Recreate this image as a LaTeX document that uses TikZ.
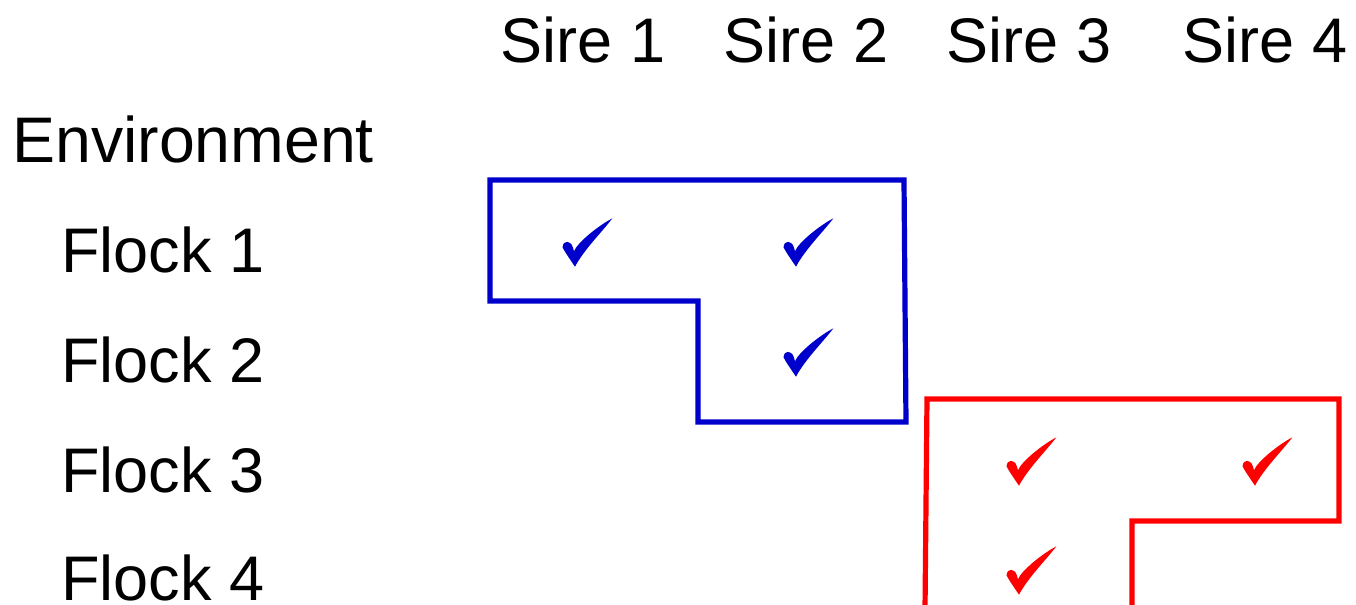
\documentclass[tikz,border=0pt]{standalone}
\usepackage{fontspec}
\setmainfont{Liberation Sans}
\begin{document}
\begin{tikzpicture}[x=0.5pt,y=-0.5pt,
  lbl/.style={inner sep=0pt,font=\fontsize{31.5}{38}\selectfont},
  bluegroup/.style={draw=groupblue,line width=2.6pt,line join=miter},
  redgroup/.style={draw=red,line width=2.6pt,line join=miter},
  checkmark/.pic={
    \fill (-22.5,4.7) .. controls (-21.5,0.2) .. (-17.7,-0.8)
      .. controls (-13.3,0.8) .. (-11,8.5)
      .. controls (-7.3,-0.5) and (14,-17.5) .. (27.3,-24.3)
      .. controls (18.5,-12.5) and (-1.5,7.5) .. (-10,24)
      .. controls (-18,12.3) .. cycle;
  }]
\definecolor{groupblue}{RGB}{0,0,204}
\useasboundingbox (0,0) rectangle (1356,605);

% column headings
\node[lbl,anchor=base] (s1) at (583,62) {Sire 1};
\node[lbl,anchor=base] (s2) at (806,62) {Sire 2};
\node[lbl,anchor=base] (s3) at (1029,62) {Sire 3};
\node[lbl,anchor=base] (s4) at (1265,62) {Sire 4};

% row headings
\node[lbl,anchor=base west,font=\fontsize{32.2}{38}\selectfont] (env) at (12,162) {Environment};
\node[lbl,anchor=base west] (f1) at (61,272) {Flock 1};
\node[lbl,anchor=base west] (f2) at (61,382) {Flock 2};
\node[lbl,anchor=base west] (f3) at (61,492) {Flock 3};
\node[lbl,anchor=base west] (f4) at (61,600) {Flock 4};

% first connected group
\draw[bluegroup] (490,180) -- (904,180) -- (906,422) -- (698,422) -- (698,301) -- (490,301) -- cycle;
\pic[fill=groupblue] (c11) at (585,242.7) {checkmark};
\pic[fill=groupblue] (c12) at (806,242.7) {checkmark};
\pic[fill=groupblue] (c22) at (806,352.7) {checkmark};

% second connected group
\draw[redgroup] (925,610) -- (927,399) -- (1339,399) -- (1339,521) -- (1132,521) -- (1132,610);
\pic[fill=red] (c33) at (1029,461.7) {checkmark};
\pic[fill=red] (c34) at (1265,461.7) {checkmark};
\pic[fill=red] (c43) at (1029,570.7) {checkmark};
\end{tikzpicture}
\end{document}
